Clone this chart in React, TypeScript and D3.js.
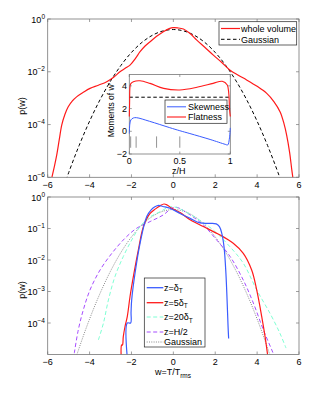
import React from "react";
import * as d3 from "d3";

// ---------- data ----------
const wholeW = [-5.8, -5.68, -5.57, -5.45, -5.33, -5.18, -5.02, -4.82, -4.62, -4.3, -3.98, -3.58, -3.18, -2.85, -2.55, -2.3, -2.07, -1.8, -1.59, -1.35, -1.11, -0.8, -0.48, -0.2, 0, 0.2, 0.48, 0.8, 1.12, 1.5, 1.91, 2.3, 2.71, 3.1, 3.5, 4.0, 4.46, 4.8, 5.1, 5.28, 5.41, 5.55, 5.65, 5.72];
const wholeP = [1e-6, 2.6e-6, 6.9e-6, 2.6e-5, 9.5e-5, 2.4e-4, 4.7e-4, 7.9e-4, 1.12e-3, 1.66e-3, 2.34e-3, 3.1e-3, 4.2e-3, 6.2e-3, 1.0e-2, 1.35e-2, 1.78e-2, 3.3e-2, 5.75e-2, 9.5e-2, 0.138, 0.22, 0.331, 0.43, 0.468, 0.46, 0.417, 0.28, 0.158, 8.5e-2, 4.27e-2, 2.3e-2, 1.15e-2, 7.4e-3, 4.9e-3, 2.8e-3, 1.51e-3, 7.4e-4, 3.0e-4, 1.1e-4, 4.0e-5, 9e-6, 2.1e-6, 8e-7];

const gaussW = [-5.5, -5, -4.5, -4, -3.5, -3, -2.5, -2, -1.5, -1, -0.5, 0, 0.5, 1, 1.5, 2, 2.5, 3, 3.5, 4, 4.5, 5, 5.5];
const gaussP = [1.08e-7, 1.49e-6, 1.6e-5, 1.34e-4, 8.73e-4, 4.43e-3, 1.75e-2, 5.4e-2, 0.1295, 0.242, 0.352, 0.399, 0.352, 0.242, 0.1295, 5.4e-2, 1.75e-2, 4.43e-3, 8.73e-4, 1.34e-4, 1.6e-5, 1.49e-6, 1.08e-7];

// inset moments
const flatZ = [0, 0.003, 0.007, 0.015, 0.04, 0.106, 0.205, 0.34, 0.5, 0.67, 0.83, 0.92, 0.97, 0.985, 0.993, 1.0];
const flatV = [1.3, 2.5, 3.9, 4.2, 4.37, 4.45, 4.22, 3.78, 3.64, 3.87, 4.22, 4.4, 4.08, 3.3, 1.87, 1.3];
const skewZ = [0, 0.005, 0.015, 0.04, 0.07, 0.2, 0.4, 0.5, 0.6, 0.8, 0.95, 0.975, 0.99, 1.0];
const skewV = [-0.2, 0.6, 1.0, 1.17, 1.2, 0.88, 0.32, 0.05, -0.2, -0.72, -1.15, -1.2, -0.7, 0.3];
const gaussFlatness = 3;
const markZ = [0.0135, 0.0675, 0.27, 0.5];

// bottom panel
const d1W = [-2.2, -2.2, -2.04, -2.02, -1.99, -1.83, -1.59, -1.27, -1.05, -0.88, -0.7, -0.5, -0.16, 0.32, 0.8, 1.27, 1.75, 2.05, 2.2, 2.31, 2.42, 2.51, 2.62, 2.64];
const d1P = [8e-6, 1e-4, 1e-4, 2.2e-4, 5.4e-4, 3.8e-3, 3.4e-2, 0.24, 0.4, 0.49, 0.54, 0.5, 0.44, 0.3, 0.21, 0.15, 0.145, 0.14, 0.115, 7.1e-2, 2.6e-2, 3.8e-3, 6e-5, 3.2e-5];
const d5W = [-2.49, -2.47, -2.43, -2.39, -2.31, -2.2, -2.07, -1.91, -1.67, -1.43, -1.11, -0.85, -0.64, -0.45, -0.3, -0.1, 0.32, 0.8, 1.43, 2.23, 2.86, 3.34, 3.74, 3.98, 4.22, 4.38, 4.49, 4.52];
const d5P = [8e-6, 2e-5, 2e-5, 3.7e-5, 7.6e-5, 1.6e-4, 6.8e-4, 2.95e-3, 2.1e-2, 0.115, 0.3, 0.42, 0.52, 0.6, 0.56, 0.45, 0.32, 0.19, 0.115, 6.2e-2, 3.4e-2, 1.62e-2, 4.8e-3, 1.12e-3, 1.6e-4, 3.7e-5, 1.1e-5, 8e-6];
const d20W = [-3.58, -3.34, -3.1, -2.79, -2.39, -1.99, -1.59, -1.11, -0.64, -0.24, 0.0, 0.32, 1.12, 1.91, 2.71, 3.34, 3.98, 4.62, 5.09, 5.38];
const d20P = [2.9e-5, 9.8e-5, 5.4e-4, 2.95e-3, 1.29e-2, 4.3e-2, 0.115, 0.234, 0.34, 0.47, 0.49, 0.42, 0.21, 8.9e-2, 2.6e-2, 7.9e-3, 1.12e-3, 2.0e-4, 4.7e-5, 1.6e-5];
const dHW = [-4.73, -4.54, -4.3, -3.98, -3.5, -2.94, -2.31, -1.75, -1.11, -0.48, -0.08, 0.16, 0.8, 1.43, 2.07, 2.71, 3.34, 3.82, 4.3, 4.7, 4.85];
const dHP = [1.1e-5, 6e-5, 2.6e-4, 1.12e-3, 4.8e-3, 1.62e-2, 4.9e-2, 0.102, 0.166, 0.27, 0.44, 0.47, 0.27, 0.129, 4.3e-2, 1.29e-2, 2.3e-3, 4.3e-4, 6e-5, 1.4e-5, 8e-6];

const xTicks = [-6, -4, -2, 0, 2, 4, 6];
const topYTicks = [0, -2, -4, -6];
const botYTicks = [0, -1, -2, -3, -4];
const insetYTicks = [-2, 0, 2, 4];
const insetXTicks = [0, 0.5, 1];

const FONT = "'Liberation Sans', Arial, Helvetica, sans-serif";
const FRAME = "#777";

const BLUE = "#3a5cff";
const RED = "#ff1a1a";
const CYAN = "#7fffd4";
const PURPLE = "#a64dff";
const GRAY = "#888";

function zip(a: number[], b: number[]) {
  return a.map((v, i) => [v, b[i]] as [number, number]);
}

function Pow({ x, y, e, anchor = "end" }: { x: number; y: number; e: number; anchor?: string }) {
  return (
    <text x={x} y={y} fontSize={9} textAnchor={anchor as any} fontFamily={FONT} fill="#000">
      10<tspan fontSize={6.5} dy={-4}>{e === 0 ? "0" : "\u2212" + Math.abs(e)}</tspan>
    </text>
  );
}

function Frame({ x0, x1, y0, y1 }: { x0: number; x1: number; y0: number; y1: number }) {
  return <rect x={x0} y={y0} width={x1 - x0} height={y1 - y0} fill="none" stroke={FRAME} strokeWidth={0.8} />;
}

export default function App() {
  const L = 47.7, R = 299;
  const x = d3.scaleLinear().domain([-6, 6]).range([L, R]);
  const yTop = d3.scaleLog().domain([1e-6, 1]).range([177.3, 19]);
  const yBot = d3.scaleLog().domain([1e-5, 1]).range([354.5, 197]);
  const xi = d3.scaleLinear().domain([0, 1]).range([129.3, 230.3]);
  const yi = d3.scaleLinear().domain([-2, 5]).range([154, 74.5]);

  const lineTop = d3.line<[number, number]>().x(d => x(d[0])).y(d => yTop(d[1])).curve(d3.curveCatmullRom);
  const lineBot = d3.line<[number, number]>().x(d => x(d[0])).y(d => yBot(d[1])).curve(d3.curveCatmullRom.alpha(0.5));
  const lineIn = d3.line<[number, number]>().x(d => xi(d[0])).y(d => yi(d[1])).curve(d3.curveCatmullRom);

  const tick = 3;
  const topT = 19, topB = 177.3, botT = 197, botB = 354.5;

  const xTickMarks = (t: number, b: number) =>
    xTicks.map(v => (
      <g key={"xt" + v + t}>
        <line x1={x(v)} x2={x(v)} y1={b} y2={b - tick} stroke={FRAME} strokeWidth={0.7} />
        <line x1={x(v)} x2={x(v)} y1={t} y2={t + tick} stroke={FRAME} strokeWidth={0.7} />
      </g>
    ));
  const yTickMarks = (ys: number[], sc: (v: number) => number, key: string) =>
    ys.map(e => (
      <g key={key + e}>
        <line x1={L} x2={L + tick} y1={sc(Math.pow(10, e))} y2={sc(Math.pow(10, e))} stroke={FRAME} strokeWidth={0.7} />
        <line x1={R} x2={R - tick} y1={sc(Math.pow(10, e))} y2={sc(Math.pow(10, e))} stroke={FRAME} strokeWidth={0.7} />
      </g>
    ));

  const botLegend = [
    { label: "z=δ", sub: "T", color: BLUE, dash: "", w: 1.3 },
    { label: "z=5δ", sub: "T", color: RED, dash: "", w: 1.3 },
    { label: "z=20δ", sub: "T", color: CYAN, dash: "4,2.5", w: 1 },
    { label: "z=H/2", sub: "", color: PURPLE, dash: "4,2.5", w: 1 },
    { label: "Gaussian", sub: "", color: GRAY, dash: "1,1.3", w: 1 },
  ];
  const legY = [287.7, 302.7, 317, 332, 342];

  return (
    <svg width={315} height={395} style={{ position: "absolute", left: 0, top: 0, background: "#fff" }} fontFamily={FONT}>
      <defs>
        <clipPath id="clipTop"><rect x={L} y={topT} width={R - L} height={topB - topT} /></clipPath>
        <clipPath id="clipBot"><rect x={L} y={botT} width={R - L} height={botB - botT} /></clipPath>
      </defs>
      <rect x={0} y={0} width={315} height={395} fill="#fff" />

      {/* ---------- TOP PANEL ---------- */}
      <g clipPath="url(#clipTop)">
        <path d={lineTop(zip(gaussW, gaussP)) || ""} fill="none" stroke="#000" strokeWidth={1} strokeDasharray="3.5,2.5" />
        <path d={lineTop(zip(wholeW, wholeP)) || ""} fill="none" stroke={RED} strokeWidth={1.2} />
      </g>
      <Frame x0={L} x1={R} y0={topT} y1={topB} />
      {xTickMarks(topT, topB)}
      {yTickMarks(topYTicks, yTop, "ty")}
      {xTicks.map(v => (
        <text key={"xl" + v} x={x(v)} y={188} fontSize={9} textAnchor="middle">{v < 0 ? "\u2212" + Math.abs(v) : v}</text>
      ))}
      {topYTicks.map(e => <Pow key={"tyl" + e} x={45} y={yTop(Math.pow(10, e)) + 3.5} e={e} />)}
      <text transform={`translate(24.5,106) rotate(-90)`} fontSize={9} textAnchor="middle">p(w)</text>

      {/* top legend */}
      <rect x={219} y={21.7} width={77.7} height={23.3} fill="#fff" stroke="#222" strokeWidth={0.7} />
      <line x1={221} x2={240} y1={28.5} y2={28.5} stroke={RED} strokeWidth={1.2} />
      <text x={241} y={31.8} fontSize={9}>whole volume</text>
      <line x1={221} x2={240} y1={39.3} y2={39.3} stroke="#000" strokeWidth={1} strokeDasharray="3.5,2.5" />
      <text x={241} y={42.6} fontSize={9}>Gaussian</text>

      {/* ---------- INSET ---------- */}
      <rect x={xi(0)} y={yi(5)} width={xi(1) - xi(0)} height={yi(-2) - yi(5)} fill="#fff" stroke={FRAME} strokeWidth={0.8} />
      {markZ.map(z => (
        <line key={"m" + z} x1={xi(z)} x2={xi(z)} y1={yi(-0.45)} y2={yi(-1.45)} stroke="#666" strokeWidth={0.7} />
      ))}
      <line x1={xi(0)} x2={xi(1)} y1={yi(gaussFlatness)} y2={yi(gaussFlatness)} stroke="#000" strokeWidth={1} strokeDasharray="3.5,2.5" />
      <path d={lineIn(zip(skewZ, skewV)) || ""} fill="none" stroke={BLUE} strokeWidth={1} />
      <path d={lineIn(zip(flatZ, flatV)) || ""} fill="none" stroke={RED} strokeWidth={1.1} />
      {insetYTicks.map(v => (
        <g key={"iy" + v}>
          <line x1={xi(0)} x2={xi(0) + 2.5} y1={yi(v)} y2={yi(v)} stroke={FRAME} strokeWidth={0.7} />
          <line x1={xi(1)} x2={xi(1) - 2.5} y1={yi(v)} y2={yi(v)} stroke={FRAME} strokeWidth={0.7} />
          <text x={127} y={yi(v) + 3.2} fontSize={9} textAnchor="end">{v < 0 ? "\u2212" + Math.abs(v) : v}</text>
        </g>
      ))}
      {insetXTicks.map(v => (
        <g key={"ix" + v}>
          <line x1={xi(v)} x2={xi(v)} y1={yi(-2)} y2={yi(-2) - 2.5} stroke={FRAME} strokeWidth={0.7} />
          <line x1={xi(v)} x2={xi(v)} y1={yi(5)} y2={yi(5) + 2.5} stroke={FRAME} strokeWidth={0.7} />
          <text x={xi(v)} y={164} fontSize={9} textAnchor="middle">{v}</text>
        </g>
      ))}
      <text x={xi(0.5) - 1} y={173.5} fontSize={9} textAnchor="middle">z/H</text>
      <text transform={`translate(114,110) rotate(-90)`} fontSize={8.5} textAnchor="middle">Moments of w'</text>
      {/* inset legend */}
      <rect x={165} y={100} width={62} height={23.3} fill="#fff" stroke="#222" strokeWidth={0.7} />
      <line x1={167} x2={186} y1={106.8} y2={106.8} stroke={BLUE} strokeWidth={1} />
      <text x={188} y={110} fontSize={9}>Skewness</text>
      <line x1={167} x2={186} y1={117} y2={117} stroke={RED} strokeWidth={1.1} />
      <text x={188} y={120.3} fontSize={9}>Flatness</text>

      {/* ---------- BOTTOM PANEL ---------- */}
      <g clipPath="url(#clipBot)">
        <path d={lineBot(zip(gaussW, gaussP)) || ""} fill="none" stroke={GRAY} strokeWidth={1} strokeDasharray="1,1.3" />
        <path d={lineBot(zip(dHW, dHP)) || ""} fill="none" stroke={PURPLE} strokeWidth={1} strokeDasharray="4,2.5" />
        <path d={lineBot(zip(d20W, d20P)) || ""} fill="none" stroke={CYAN} strokeWidth={1} strokeDasharray="4,2.5" />
        <path d={lineBot(zip(d5W, d5P)) || ""} fill="none" stroke={RED} strokeWidth={1.2} />
        <path d={lineBot(zip(d1W, d1P)) || ""} fill="none" stroke={BLUE} strokeWidth={1.2} />
      </g>
      <Frame x0={L} x1={R} y0={botT} y1={botB} />
      {xTickMarks(botT, botB)}
      {yTickMarks(botYTicks, yBot, "by")}
      {xTicks.map(v => (
        <text key={"bxl" + v} x={x(v)} y={364.5} fontSize={9} textAnchor="middle">{v < 0 ? "\u2212" + Math.abs(v) : v}</text>
      ))}
      {botYTicks.map(e => <Pow key={"byl" + e} x={45} y={yBot(Math.pow(10, e)) + 3.5} e={e} />)}
      <text transform={`translate(24.5,290) rotate(-90)`} fontSize={9} textAnchor="middle">p(w)</text>
      <text x={173} y={375} fontSize={9} textAnchor="middle">
        w=T/T<tspan fontSize={6.5} dy={2.5}>rms</tspan>
      </text>

      {/* bottom legend */}
      <rect x={144.3} y={278} width={60.7} height={69} fill="#fff" stroke="#222" strokeWidth={0.7} />
      {botLegend.map((d, i) => (
        <g key={"bl" + i}>
          <line x1={146.7} x2={163.3} y1={legY[i]} y2={legY[i]} stroke={d.color} strokeWidth={d.w} strokeDasharray={d.dash} />
          <text x={164} y={legY[i] + 3.2} fontSize={9}>
            {d.label}
            {d.sub ? <tspan fontSize={6.5} dy={2.5}>{d.sub}</tspan> : null}
          </text>
        </g>
      ))}
    </svg>
  );
}
